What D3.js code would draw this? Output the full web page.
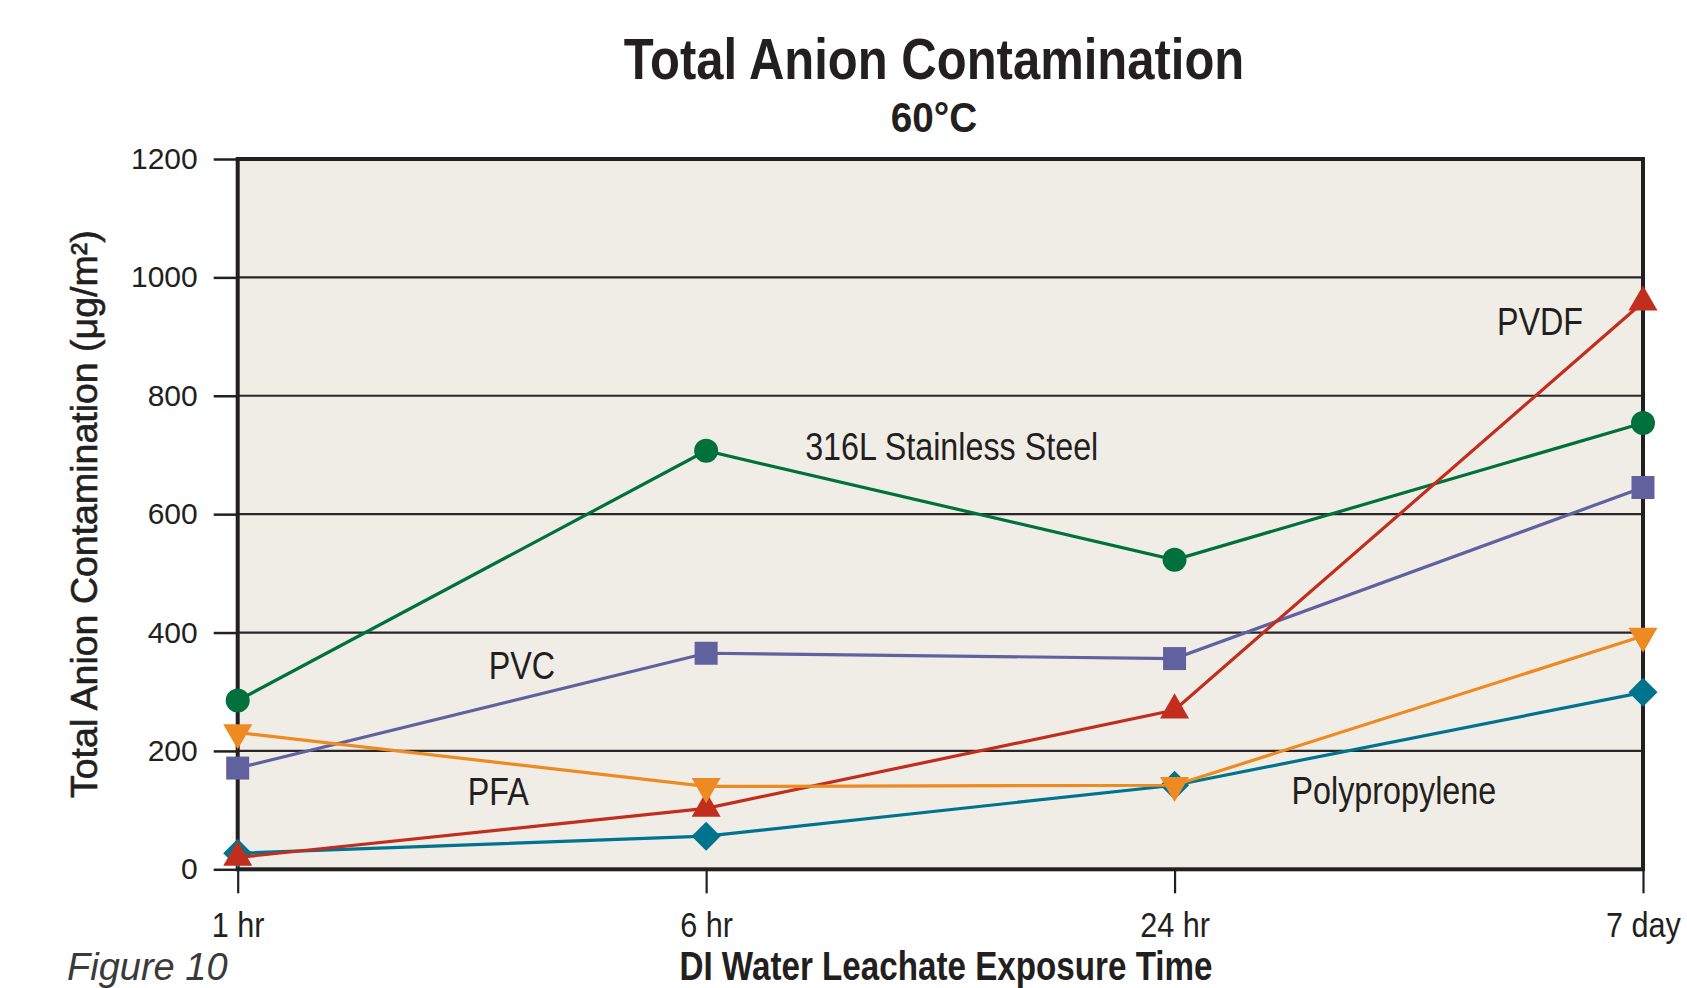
<!DOCTYPE html>
<html>
<head>
<meta charset="utf-8">
<script src="https://cdn.jsdelivr.net/npm/d3@7"></script>
<style>
  body { margin: 0; background: #ffffff; }
  svg { display: block; }
</style>
</head>
<body>
<div id="chart"></div>
<script>
// exposure times on the x axis
const times = ["1 hr", "6 hr", "24 hr", "7 day"];
const yTicks = [0, 200, 400, 600, 800, 1000, 1200];

// total anion contamination, ug/m2
const steel = [285, 707, 523, 754];
const pvc = [171, 365, 356, 645];
const polypropylene = [27, 56, 142, 299];
const pvdf = [20, 103, 269, 958];
const pfa = [231, 140, 142, 394];

const series = [
  { name: "316L Stainless Steel", values: steel, color: "#00703c", shape: "circle" },
  { name: "PVC", values: pvc, color: "#62619f", shape: "square" },
  { name: "Polypropylene", values: polypropylene, color: "#00738f", shape: "diamond" },
  { name: "PVDF", values: pvdf, color: "#c12e1d", shape: "up" },
  { name: "PFA", values: pfa, color: "#ee8a22", shape: "down" }
];

// series labels, anchored to a category and a value
const labels = [
  { text: "316L Stainless Steel", at: "6 hr", dx: 99, value: 691, anchor: "start" },
  { text: "PVC", at: "1 hr", dx: 251, value: 321, anchor: "start" },
  { text: "PFA", at: "1 hr", dx: 230, value: 109, anchor: "start" },
  { text: "Polypropylene", at: "24 hr", dx: 117, value: 111, anchor: "start" },
  { text: "PVDF", at: "7 day", dx: -60, value: 903, anchor: "end" }
];

const w = 1687, h = 988;
const mLeft = 237.7, mRight = 1643, mTop = 159, mBottom = 869.3;
const narrow = 0.85; // the original type is a condensed face

const svg = d3.select("#chart")
  .append("svg")
  .attr("width", w)
  .attr("height", h);

const x = d3.scalePoint()
  .domain(times)
  .range([mLeft, mRight])
  .padding(0);

const y = d3.scaleLinear()
  .domain([0, 1200])
  .range([mBottom, mTop]);

const ink = "#231f20";
const font = "'Liberation Sans', Arial, sans-serif";

// plot background
svg.append("rect")
  .attr("x", mLeft).attr("y", mTop)
  .attr("width", mRight - mLeft).attr("height", mBottom - mTop)
  .attr("fill", "#f0ede6");

// grid lines
svg.append("g")
  .selectAll("line")
  .data(yTicks.filter(d => d > 0 && d < 1200))
  .enter()
  .append("line")
  .attr("x1", mLeft).attr("x2", mRight)
  .attr("y1", d => y(d)).attr("y2", d => y(d))
  .attr("stroke", "#2a2627")
  .attr("stroke-width", 2.2);

// y axis
const yAxis = svg.append("g")
  .attr("transform", "translate(" + mLeft + ",0)")
  .call(d3.axisLeft(y).tickValues(yTicks).tickFormat(d3.format("d")).tickSize(24).tickPadding(16));
yAxis.select(".domain").remove();
yAxis.selectAll("line").attr("stroke", ink).attr("stroke-width", 2.5);
yAxis.selectAll("text")
  .attr("fill", ink)
  .style("font-family", font)
  .style("font-size", "30px");

// x axis
const xAxis = svg.append("g")
  .attr("transform", "translate(0," + mBottom + ")")
  .call(d3.axisBottom(x).tickSize(24).tickPadding(18));
xAxis.select(".domain").remove();
xAxis.selectAll("line").attr("stroke", ink).attr("stroke-width", 2.2);
xAxis.selectAll("text")
  .attr("fill", ink)
  .attr("transform", "scale(" + narrow + ",1)")
  .style("font-family", font)
  .style("font-size", "36px");

// frame
svg.append("rect")
  .attr("x", mLeft).attr("y", mTop)
  .attr("width", mRight - mLeft).attr("height", mBottom - mTop)
  .attr("fill", "none")
  .attr("stroke", ink)
  .attr("stroke-width", 4);

const line = d3.line()
  .x((d, i) => x(times[i]))
  .y(d => y(d));

const symbols = {
  circle: { type: d3.symbolCircle, size: 452, rotate: 0 },
  square: { type: d3.symbolSquare, size: 529, rotate: 0 },
  diamond: { type: d3.symbolSquare, size: 420, rotate: 45 },
  up: { type: d3.symbolTriangle, size: 364, rotate: 0 },
  down: { type: d3.symbolTriangle, size: 364, rotate: 180 }
};

series.forEach(s => {
  const g = svg.append("g");
  g.append("path")
    .attr("d", line(s.values))
    .attr("fill", "none")
    .attr("stroke", s.color)
    .attr("stroke-width", 3.2);
  const sym = symbols[s.shape];
  g.selectAll("path.marker")
    .data(s.values)
    .enter()
    .append("path")
    .attr("class", "marker")
    .attr("d", d3.symbol().type(sym.type).size(sym.size))
    .attr("transform", (d, i) => "translate(" + x(times[i]) + "," + y(d) + ") rotate(" + sym.rotate + ")")
    .attr("fill", s.color);
});

// series labels
svg.append("g")
  .selectAll("text")
  .data(labels)
  .enter()
  .append("text")
  .attr("transform", d => "translate(" + (x(d.at) + d.dx) + "," + y(d.value) + ") scale(" + narrow + ",1)")
  .attr("text-anchor", d => d.anchor)
  .attr("fill", ink)
  .style("font-family", font)
  .style("font-size", "38px")
  .text(d => d.text);

// titles
svg.append("text")
  .attr("transform", "translate(934,79) scale(0.86,1)")
  .attr("text-anchor", "middle")
  .attr("fill", ink)
  .style("font-family", font)
  .style("font-weight", "bold")
  .style("font-size", "57px")
  .text("Total Anion Contamination");

svg.append("text")
  .attr("transform", "translate(934,132) scale(0.9,1)")
  .attr("text-anchor", "middle")
  .attr("fill", ink)
  .style("font-family", font)
  .style("font-weight", "bold")
  .style("font-size", "43px")
  .text("60°C");

svg.append("text")
  .attr("transform", "translate(946,980) scale(0.83,1)")
  .attr("text-anchor", "middle")
  .attr("fill", ink)
  .style("font-family", font)
  .style("font-weight", "bold")
  .style("font-size", "40px")
  .text("DI Water Leachate Exposure Time");

svg.append("text")
  .attr("transform", "translate(97," + ((mTop + mBottom) / 2) + ") rotate(-90)")
  .attr("text-anchor", "middle")
  .attr("fill", ink)
  .attr("stroke", ink)
  .attr("stroke-width", 0.6)
  .style("font-family", font)
  .style("font-size", "37.5px")
  .text("Total Anion Contamination (μg/m²)");

svg.append("text")
  .attr("x", 67).attr("y", 979.5)
  .attr("fill", "#3a3a3a")
  .style("font-family", font)
  .style("font-style", "italic")
  .style("font-size", "38px")
  .text("Figure 10");
</script>
</body>
</html>
